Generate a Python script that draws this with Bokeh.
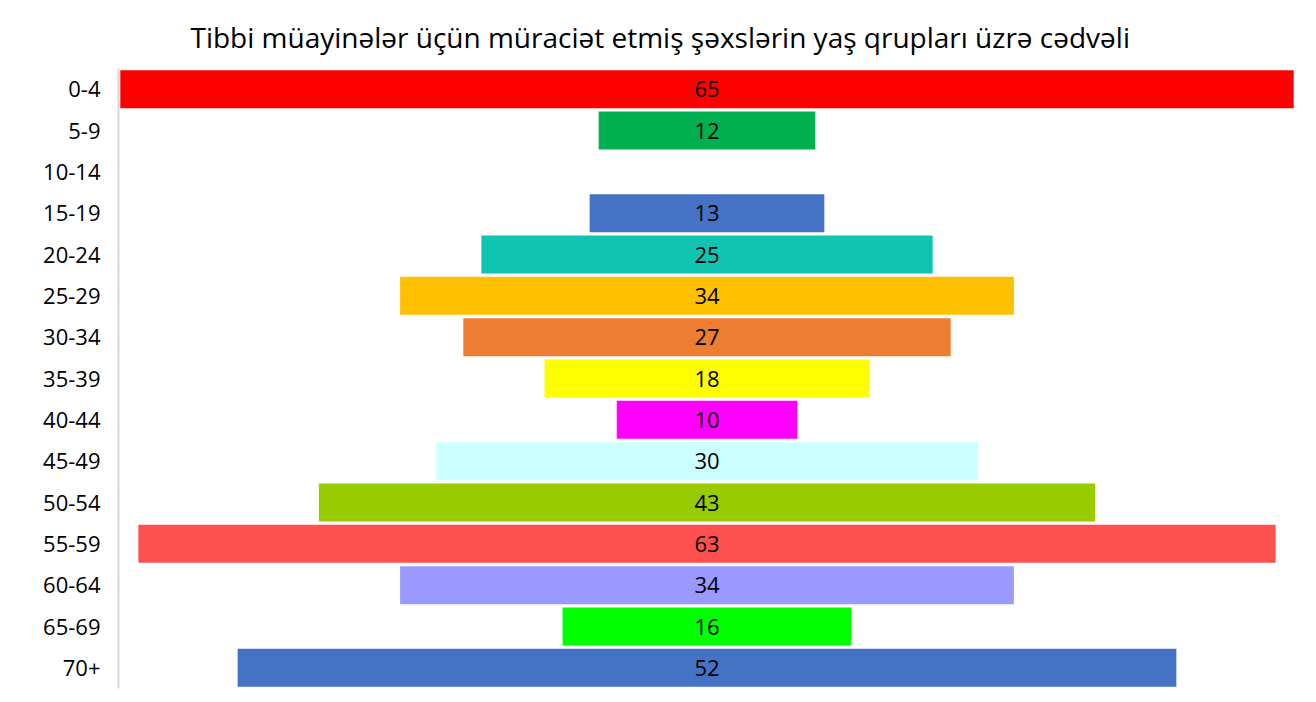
from bokeh.plotting import figure
from bokeh.models import ColumnDataSource, FactorRange, Range1d
from bokeh.embed import file_html
from bokeh.resources import INLINE
from bokeh.core.properties import value

groups = ["0-4", "5-9", "10-14", "15-19", "20-24", "25-29", "30-34", "35-39",
          "40-44", "45-49", "50-54", "55-59", "60-64", "65-69", "70+"]
counts = [65, 12, 0, 13, 25, 34, 27, 18, 10, 30, 43, 63, 34, 16, 52]
colors = ["#FF0000", "#00B050", "#FFFFFF", "#4472C4", "#0FC4B0", "#FFC000", "#ED7D31",
          "#FFFF00", "#FF00FF", "#CCFFFF", "#99CC00", "#FF5050", "#9999FF", "#00FF00",
          "#4472C4"]
title_text = "Tibbi müayinələr üçün müraciət etmiş şəxslərin yaş qrupları üzrə cədvəli"

FONT = "Open Sans"

src = ColumnDataSource(dict(
    g=groups,
    left=[-v / 2 for v in counts],
    right=[v / 2 for v in counts],
    c=colors,
))
lbl_groups = [g for g, v in zip(groups, counts) if v > 0]
lbl_vals = [str(v) for v in counts if v > 0]
lsrc = ColumnDataSource(dict(g=lbl_groups, t=lbl_vals, x=[0] * len(lbl_vals)))

p = figure(width=1300, height=694, output_backend="svg", toolbar_location=None,
           y_range=FactorRange(factors=list(reversed(groups)), range_padding=0),
           x_range=Range1d(-32.6, 32.6),
           min_border_left=118, min_border_right=5, min_border_top=68, min_border_bottom=6)

p.hbar(y="g", left="left", right="right", height=0.92, fill_color="c",
       line_color=None, source=src)
p.text(x="x", y="g", text="t", source=lsrc, text_align="center", text_baseline="middle",
       text_font=value(FONT), text_font_size="22px", text_color="#000000")

p.title.text = title_text
p.title.align = "left"
p.title.offset = 72
p.title.text_font = FONT
p.title.text_font_size = "28px"
p.title.text_font_style = "normal"
p.title.text_color = "#000000"
p.title.standoff = 25

p.xaxis.visible = False
p.xgrid.visible = False
p.ygrid.visible = False
p.outline_line_color = None

p.yaxis.axis_line_color = "#D9D9D9"
p.yaxis.axis_line_width = 2
p.yaxis.major_tick_line_color = None
p.yaxis.minor_tick_line_color = None
p.yaxis.major_label_text_font = FONT
p.yaxis.major_label_text_font_size = "22px"
p.yaxis.major_label_text_color = "#000000"
p.yaxis.major_label_standoff = 12

open("out.html", "w").write(file_html(p, INLINE))
